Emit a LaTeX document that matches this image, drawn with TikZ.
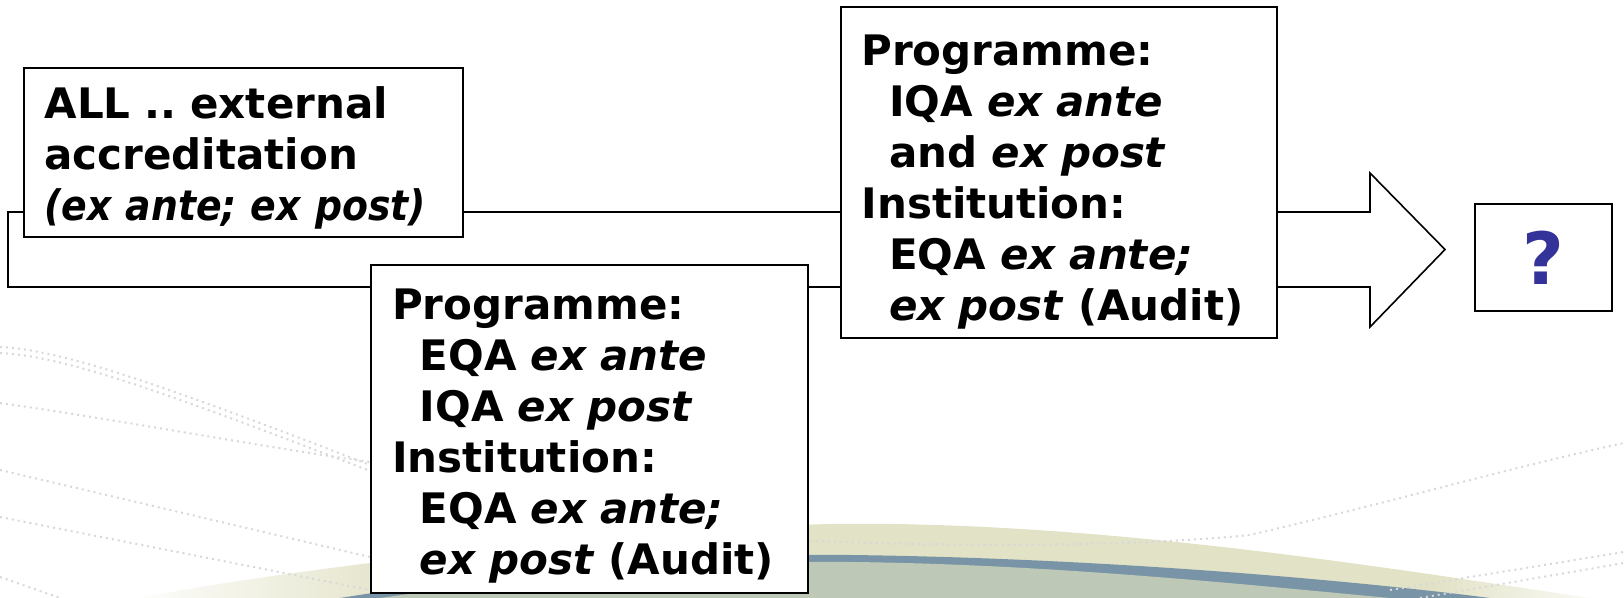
\documentclass[tikz,border=0pt]{standalone}
\usepackage{fontspec}
\setmainfont{DejaVu Sans}
\usetikzlibrary{fadings}
\frenchspacing
\definecolor{qblue}{HTML}{333399}
\definecolor{beigec}{HTML}{E2E2C6}
\definecolor{stripec}{HTML}{7894A6}
\definecolor{sagec}{HTML}{BEC8B6}
\definecolor{dotc}{HTML}{D8D8D8}
\tikzfading[name=qafadeR, left color=transparent!0, right color=transparent!100]
\tikzfading[name=qafadeL, left color=transparent!100, right color=transparent!0]
\newcommand\qaind{\hspace*{0.66em}}
\begin{document}
\begin{tikzpicture}[x=0.5pt,y=-0.5pt,
  qabox/.style={draw, fill=white, line width=1pt, align=left, inner xsep=10.5pt, inner ysep=0pt,
    font=\bfseries\fontsize{21}{25.5}\selectfont},
  qmark/.style={draw, fill=white, line width=1pt, align=center, inner sep=0pt, text=qblue,
    font=\bfseries\fontsize{36}{40}\selectfont},
  bigarrow/.style={draw=black, fill=white, line width=0.8pt, line join=miter},
  bgdots/.style={draw=dotc, dotted, line width=1pt}]
\useasboundingbox (0,0) rectangle (1624,598);
% background swoosh
\fill[beigec] (140,598) .. controls (250,575) and (600,530) .. (830,524) .. controls (1100,520) and (1400,570) .. (1590,598) -- cycle;
\fill[white, path fading=qafadeR] (120,540) rectangle (420,598);
\fill[white, path fading=qafadeL] (1430,540) rectangle (1624,598);
\fill[stripec] (340,598) .. controls (550,565) and (700,553) .. (850,555) .. controls (1100,558) and (1350,580) .. (1490,598) -- cycle;
\fill[sagec] (380,598) .. controls (580,570) and (700,561) .. (850,562) .. controls (1050,564) and (1250,585) .. (1390,598) -- cycle;
% faint dotted lines
\draw[bgdots] (0,347) .. controls (60,350) and (150,380) .. (370,465);
\draw[bgdots] (0,353) .. controls (60,356) and (150,386) .. (370,471);
\draw[bgdots] (0,403) .. controls (120,420) and (250,445) .. (370,462);
\draw[bgdots] (0,470) -- (370,557);
\draw[bgdots] (0,517) -- (370,590);
\draw[bgdots] (0,577) -- (60,598);
\draw[bgdots] (810,541) .. controls (1000,548) and (1150,545) .. (1250,535) .. controls (1400,500) and (1500,470) .. (1624,443);
\draw[bgdots] (1390,590) -- (1624,552);
\draw[bgdots] (1420,598) -- (1624,563);
% big block arrow
\draw[bigarrow] (8,212) -- (1370,212) -- (1370,173) -- (1445,249.5) -- (1370,327) -- (1370,287) -- (8,287) -- cycle;
% boxes
\node[qabox, minimum width=219.75pt, minimum height=84.5pt, text width=198.75pt] (b1) at (243.25,152.5)
  {\rule{0pt}{21pt}ALL .. external\\accreditation\\\textit{\addfontfeature{FakeStretch=0.9}(ex ante; ex post)}};
\node[qabox, minimum width=218.5pt, minimum height=164pt, text width=197.5pt] (b2) at (589.5,429)
  {\rule{0pt}{22.5pt}Programme:\\\qaind EQA \textit{ex ante}\\\qaind IQA \textit{ex post}\\Institution:\\\qaind EQA \textit{ex ante;}\\\qaind\textit{ex post} (Audit)};
\node[qabox, minimum width=218pt, minimum height=165.2pt, text width=197pt] (b3) at (1058.5,172.5)
  {\rule{0pt}{24.5pt}Programme:\\\qaind IQA \textit{ex ante}\\\qaind and \textit{ex post}\\Institution:\\\qaind EQA \textit{ex ante;}\\\qaind\textit{ex post} (Audit)};
\node[qmark, minimum width=68.5pt, minimum height=53.5pt] (b4) at (1543.5,258) {?};
\end{tikzpicture}
\end{document}
